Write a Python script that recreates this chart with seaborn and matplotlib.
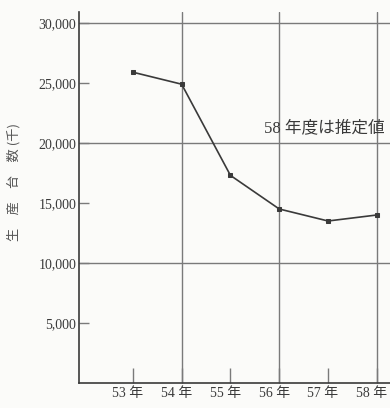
import matplotlib
matplotlib.use("Agg")
import matplotlib.pyplot as plt
import matplotlib.transforms as mtransforms
import seaborn as sns
import pandas as pd

# Production by fiscal year (thousand units); FY58 is an estimate
years = [53, 54, 55, 56, 57, 58]
year_labels = ["53 年", "54 年", "55 年", "56 年", "57 年", "58 年"]
units = [25900, 24900, 17300, 14500, 13500, 14000]

y_ticks = [5000, 10000, 15000, 20000, 25000, 30000]
y_tick_labels = ["5,000", "10,000", "15,000", "20,000", "25,000", "30,000"]
h_grid = [10000, 20000, 30000]
v_grid = [54, 56, 58]

note_text = "58 年度は推定値"
y_label = "生\u3000産\u3000台\u3000数 (千)"

sns.set_theme(style="white")
plt.rcParams["font.family"] = ["Liberation Serif", "Noto Sans CJK JP"]

ink = "#3a3a3a"
grid_c = "#7a7a7a"

fig = plt.figure(figsize=(3.9, 4.08), dpi=100, facecolor="#fbfbf9")
ax = fig.add_axes([0.203, 0.0613, 0.797, 0.9093])
ax.set_facecolor("#fbfbf9")

df = pd.DataFrame({"year": years, "units": units})

for g in h_grid:
    ax.axhline(g, color=grid_c, lw=1.0, zorder=1)
for g in v_grid:
    ax.axvline(g, color=grid_c, lw=1.0, zorder=1)

sns.lineplot(data=df, x="year", y="units", ax=ax, color=ink, lw=1.2,
             marker="s", markersize=3.5, markeredgecolor=ink, zorder=3)

ax.set_xlim(51.9, 58.27)
ax.set_ylim(0, 30917)

ax.set_xticks(years)
ax.set_xticklabels(year_labels, fontsize=10, color=ink,
                   family=["Liberation Serif", "Noto Sans CJK JP"])
ax.set_yticks(y_ticks)
ax.set_yticklabels(y_tick_labels, fontsize=10, color=ink)

ax.tick_params(axis="x", direction="in", length=11, width=1.0, color=grid_c,
               pad=3, bottom=True)
ax.tick_params(axis="y", direction="in", length=7, width=1.0, color=grid_c,
               pad=2, left=True)

# nudge the year labels slightly left so the last one stays inside
shift = mtransforms.ScaledTranslation(-5 / 100, 0, fig.dpi_scale_trans)
for lbl in ax.get_xticklabels():
    lbl.set_transform(lbl.get_transform() + shift)

for side in ["top", "right"]:
    ax.spines[side].set_visible(False)
for side in ["left", "bottom"]:
    ax.spines[side].set_color(ink)
    ax.spines[side].set_linewidth(1.2)

ax.set_xlabel("")
ax.set_ylabel("")

fig.text(0.036, 0.555, y_label, rotation=90, ha="center", va="center",
         fontsize=9.5, color="#555555",
         family=["Noto Sans CJK JP", "Liberation Serif"])

ax.text(58.16, 21250, note_text, ha="right", va="center", fontsize=12,
        color=ink, family=["Liberation Serif", "Noto Sans CJK JP"])

fig.savefig("out.png", dpi=100, facecolor=fig.get_facecolor())
